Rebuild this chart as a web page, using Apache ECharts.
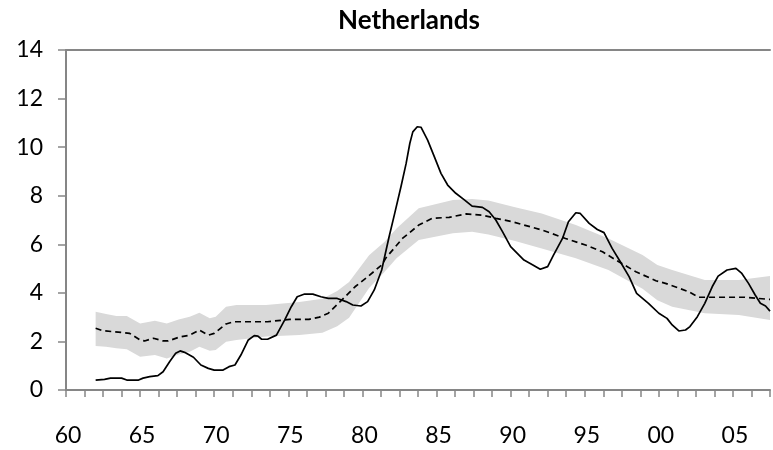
<!DOCTYPE html>
<html>
<head>
<meta charset="utf-8">
<title>Netherlands</title>
<script src="https://cdn.jsdelivr.net/npm/echarts@6/dist/echarts.min.js"></script>
<style>
  html, body { margin: 0; padding: 0; background: #ffffff; }
  #chart { width: 773px; height: 450px; }
</style>
</head>
<body>
<div id="chart"></div>
<script>
// Unemployment rate, Netherlands (quarterly, per cent)
const actualYears = [1962.0, 1962.6, 1963.0, 1963.75, 1964.1, 1964.9, 1965.2, 1965.65, 1966.2, 1966.55,
  1967.0, 1967.4, 1967.7, 1968.0, 1968.6, 1969.1, 1969.6, 1970.0, 1970.6, 1971.0,
  1971.4, 1971.8, 1972.3, 1972.7, 1972.95, 1973.2, 1973.6, 1974.2, 1974.75, 1975.2,
  1975.6, 1976.1, 1976.65, 1977.2, 1977.7, 1978.3, 1978.9, 1979.35, 1979.9, 1980.35,
  1980.8, 1981.3, 1981.8, 1982.15, 1982.6, 1982.95, 1983.2, 1983.4, 1983.7, 1983.95,
  1984.4, 1984.85, 1985.3, 1985.75, 1986.3, 1986.9, 1987.4, 1988.1, 1988.55, 1989.0,
  1989.45, 1990.0, 1990.9, 1991.5, 1992.0, 1992.5, 1992.9, 1993.5, 1993.9, 1994.4,
  1994.7, 1995.3, 1995.85, 1996.3, 1996.85, 1997.4, 1998.0, 1998.5, 1999.3, 2000.0,
  2000.55, 2000.9, 2001.35, 2001.8, 2002.1, 2002.6, 2003.1, 2003.6, 2004.0, 2004.6,
  2005.2, 2005.6, 2006.05, 2006.5, 2006.85, 2007.2, 2007.5];
const actualRate = [0.41, 0.44, 0.49, 0.49, 0.41, 0.41, 0.49, 0.55, 0.59, 0.75,
  1.17, 1.51, 1.61, 1.55, 1.35, 1.03, 0.89, 0.82, 0.82, 0.96,
  1.03, 1.44, 2.06, 2.24, 2.22, 2.09, 2.09, 2.26, 2.88, 3.43,
  3.84, 3.95, 3.95, 3.84, 3.77, 3.77, 3.64, 3.50, 3.46, 3.64,
  4.12, 4.94, 6.31, 7.20, 8.37, 9.33, 10.16, 10.63, 10.84, 10.82,
  10.29, 9.61, 8.92, 8.44, 8.10, 7.82, 7.57, 7.52, 7.34, 7.00,
  6.52, 5.90, 5.35, 5.15, 4.97, 5.08, 5.56, 6.24, 6.93, 7.30,
  7.27, 6.86, 6.61, 6.48, 5.83, 5.28, 4.66, 3.98, 3.57, 3.16,
  2.95, 2.68, 2.43, 2.47, 2.61, 3.02, 3.57, 4.25, 4.69, 4.94,
  5.01, 4.80, 4.39, 3.91, 3.57, 3.46, 3.25];

// Equilibrium (trend) rate
const trendYears = [1962.0, 1962.5, 1963.9, 1964.3, 1965.0, 1965.3, 1965.9, 1966.55, 1966.9, 1967.6,
  1968.35, 1969.0, 1969.6, 1970.0, 1970.8, 1971.3, 1973.6, 1975.1, 1976.4, 1977.1,
  1977.7, 1978.6, 1979.5, 1980.35, 1981.3, 1981.6, 1982.7, 1983.8, 1984.7, 1985.85,
  1987.0, 1988.1, 1989.0, 1990.1, 1992.1, 1993.7, 1995.05, 1996.2, 1997.3, 1998.45,
  1999.8, 2000.5, 2002.0, 2002.7, 2004.0, 2005.8, 2006.7, 2007.5];
const trendRate = [2.54, 2.44, 2.36, 2.33, 2.06, 2.02, 2.13, 2.02, 2.02, 2.17,
  2.26, 2.47, 2.26, 2.33, 2.72, 2.81, 2.81, 2.91, 2.91, 3.00,
  3.16, 3.70, 4.25, 4.66, 5.15, 5.45, 6.24, 6.79, 7.07, 7.11,
  7.25, 7.20, 7.07, 6.93, 6.59, 6.24, 5.97, 5.69, 5.28, 4.87,
  4.50, 4.38, 4.05, 3.82, 3.82, 3.82, 3.77, 3.73];

// Confidence band around the trend
const bandYears = [1962.0, 1962.7, 1963.4, 1964.1, 1965.0, 1966.0, 1966.8, 1967.6, 1968.35, 1969.0,
  1969.7, 1970.1, 1970.8, 1971.5, 1973.5, 1975.75, 1977.3, 1978.3, 1979.1, 1980.45,
  1981.5, 1982.3, 1983.8, 1986.1, 1987.4, 1988.5, 1990.3, 1992.1, 1994.4, 1996.6,
  1998.9, 1999.9, 2000.9, 2003.1, 2005.4, 2007.5];
const bandLow = [1.81, 1.78, 1.72, 1.68, 1.37, 1.44, 1.30, 1.46, 1.58, 1.78,
  1.62, 1.65, 1.99, 2.06, 2.20, 2.26, 2.36, 2.62, 2.98, 4.20,
  4.87, 5.42, 6.18, 6.45, 6.52, 6.40, 6.14, 5.83, 5.42, 4.94,
  4.17, 3.70, 3.43, 3.16, 3.09, 2.88];
const bandHigh = [3.22, 3.13, 3.05, 3.05, 2.74, 2.85, 2.74, 2.90, 3.02, 3.18,
  2.95, 3.02, 3.43, 3.50, 3.50, 3.62, 3.76, 4.08, 4.45, 5.55,
  6.10, 6.65, 7.48, 7.82, 7.86, 7.80, 7.52, 7.27, 6.79, 6.24,
  5.56, 5.15, 4.94, 4.53, 4.53, 4.69];

// Y axis ticks
const yMin = 0, yMax = 14, yStep = 2;
// X axis: a tick every 5 quarters, a label every 5 years
const xMin = 1960, xMax = 2007.5, xStep = 1.25, labelEvery = 5;

const pairs = (xs, ys) => xs.map((x, i) => [x, ys[i]]);

const FONT = 'Lato, "Open Sans", sans-serif';
const AXIS_GREY = '#868686';

// The band is one filled polygon: the upper edge left to right, then the lower edge back.
function renderBand(params, api) {
  if (params.dataIndex !== 0) return null;
  const pts = [];
  for (let i = 0; i < bandYears.length; i++) pts.push(api.coord([bandYears[i], bandHigh[i]]));
  for (let i = bandYears.length - 1; i >= 0; i--) pts.push(api.coord([bandYears[i], bandLow[i]]));
  return {
    type: 'polygon',
    shape: { points: pts },
    style: { fill: '#d9d9d9', stroke: null },
    silent: true
  };
}

const chart = echarts.init(document.getElementById('chart'), null, { renderer: 'canvas' });
chart.setOption({
  animation: false,
  backgroundColor: '#ffffff',
  title: {
    text: 'Netherlands',
    left: 404,
    top: 3,
    textAlign: 'center',
    textStyle: { fontFamily: FONT, fontWeight: 'bold', fontSize: 26, color: '#000' }
  },
  grid: { left: 66, right: 3, top: 50, bottom: 60, containLabel: false },
  xAxis: [{
    type: 'value',
    min: xMin, max: xMax, interval: xStep,
    axisLine: { show: true, lineStyle: { color: AXIS_GREY, width: 2 } },
    axisTick: { show: true, length: 7, inside: false, lineStyle: { color: AXIS_GREY, width: 1.5 } },
    splitLine: { show: false },
    axisLabel: {
      margin: 34,
      padding: [0, 0, 0, 4],
      fontFamily: FONT, fontSize: 23, color: '#000',
      showMinLabel: true, showMaxLabel: true,
      formatter: v => {
        const r = Math.round(v * 100) / 100;
        if (Math.abs(r % labelEvery) > 1e-6) return '';
        return String(Math.round(r) % 100).padStart(2, '0');
      }
    }
  }, {
    type: 'value', position: 'top',
    min: xMin, max: xMax, interval: xStep,
    axisLine: { show: true, onZero: false, lineStyle: { color: AXIS_GREY, width: 2 } },
    axisTick: { show: false }, axisLabel: { show: false }, splitLine: { show: false }
  }],
  yAxis: {
    type: 'value',
    min: yMin, max: yMax, interval: yStep,
    axisLine: { show: true, lineStyle: { color: AXIS_GREY, width: 2 } },
    axisTick: { show: true, length: 8, inside: false, lineStyle: { color: AXIS_GREY, width: 1.5 } },
    splitLine: { show: false },
    axisLabel: { margin: 23, fontFamily: FONT, fontSize: 23, color: '#000' }
  },
  series: [{
    name: 'band', type: 'custom',
    renderItem: renderBand,
    data: pairs(bandYears, bandLow),
    encode: { x: 0, y: 1 },
    clip: true, silent: true, z: 1
  }, {
    name: 'trend', type: 'line',
    data: pairs(trendYears, trendRate),
    showSymbol: false, symbol: 'none',
    lineStyle: { color: '#000', width: 1.7, type: [6, 4] }, z: 3
  }, {
    name: 'actual', type: 'line',
    data: pairs(actualYears, actualRate),
    showSymbol: false, symbol: 'none',
    lineStyle: { color: '#000', width: 1.7 }, z: 4
  }]
});
</script>
</body>
</html>
